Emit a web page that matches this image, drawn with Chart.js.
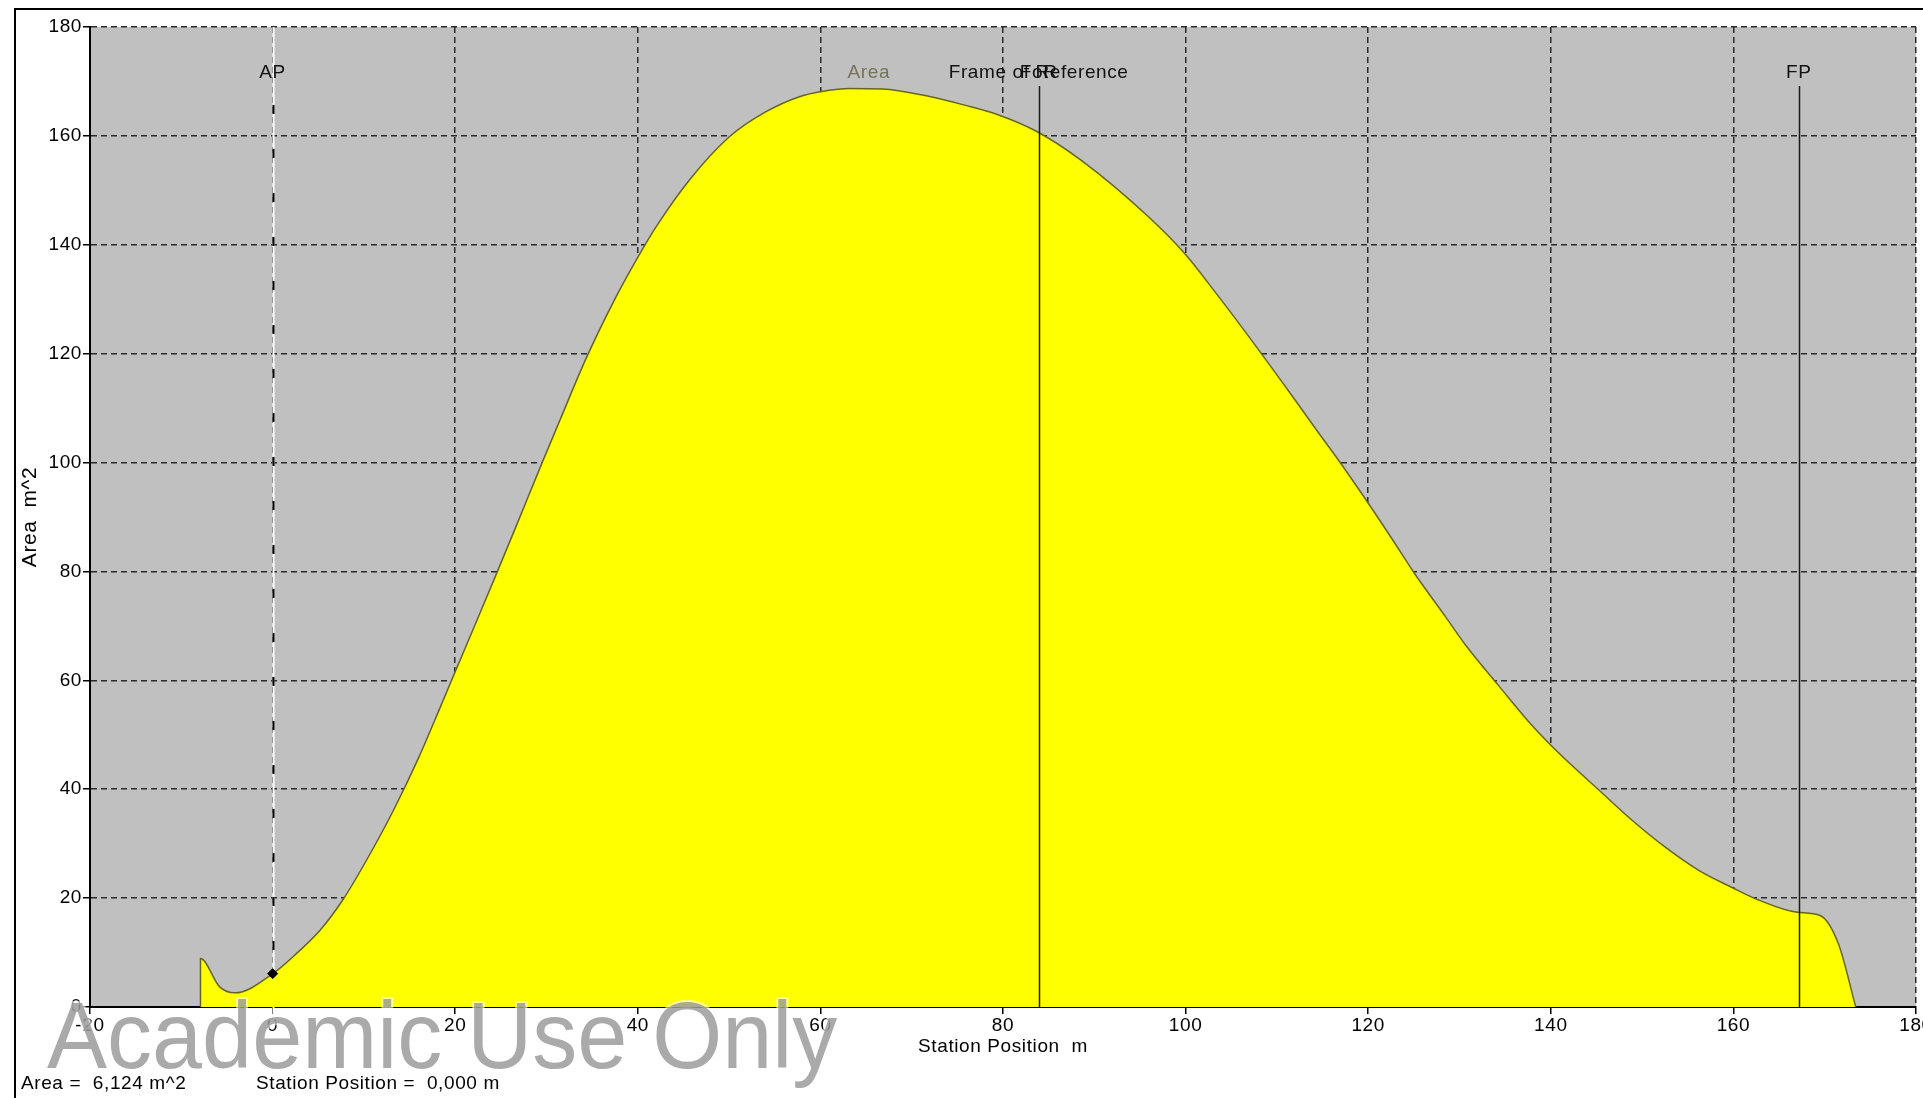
<!DOCTYPE html>
<html>
<head>
<meta charset="utf-8">
<title>Area curve</title>
<script src="https://cdn.jsdelivr.net/npm/chart.js@4.4.1/dist/chart.umd.min.js"></script>
<style>
html, body { margin: 0; padding: 0; background: #fff; overflow: hidden; }
#wrap { position: relative; width: 1923px; height: 1098px; }
#frame { position: absolute; left: 14px; top: 8px; width: 2000px; height: 2000px;
         border-left: 2px solid #000; border-top: 2px solid #000; pointer-events: none; }
</style>
</head>
<body>
<div id="wrap">
  <canvas id="areaChart" width="1923" height="1098"></canvas>
  <div id="frame"></div>
</div>
<script>
// sectional area curve
const stations = [-7.9, -7.9, -5.8, -4.1, 0, 2.6, 5.2, 7.7, 10.3, 13.2, 16.0, 18.3, 20.0, 22.2,
                  24.4, 26.6, 29.5, 31.5, 34.3, 37.6, 40.2, 42.0, 45.7, 50.0, 54.0, 57.7, 60.3,
                  63.2, 66.8, 71.2, 75.9, 79.6, 83.6, 88.5, 95.9, 99.9, 103.2, 106.5, 111.3,
                  114.2, 117.1, 120.1, 122.6, 125.0, 128.5, 130.7, 134.4, 138.0, 140.9, 145.3,
                  148.9, 152.5, 156.2, 159.8, 162.7, 167.0, 169.5, 171.5, 173.4];
const areas = [0, 8.9, 3.7, 2.6, 6.1, 9.8, 14.1, 19.7, 27.0, 36.0, 45.8, 54.8, 61.6, 70.3,
               79.1, 88.0, 99.9, 107.9, 119.0, 130.4, 138.3, 143.3, 152.0, 159.8, 164.4, 167.2, 168.2,
               168.7, 168.6, 167.5, 165.6, 163.8, 160.9, 155.6, 145.2, 138.4, 131.4, 124.1, 113.1,
               106.3, 99.6, 92.3, 86.0, 79.8, 71.6, 66.4, 58.8, 51.6, 46.6, 39.8,
               34.3, 29.4, 25.1, 22.0, 19.7, 17.4, 16.8, 11.6, 0];

// cursor marker
const cursorStation = [0];
const cursorArea = [6.124];

// reference lines
const refNames = ['AP', 'FoR', 'FP'];
const refStations = [0, 83.9, 167.15];

// axis ranges / ticks
const xRange = [-20, 180];
const yRange = [0, 180];
const tickStep = 20;

const FONT = '"Liberation Sans", Arial, sans-serif';

const curvePoints = stations.map((s, i) => ({ x: s, y: areas[i] }));
const cursorPoints = cursorStation.map((s, i) => ({ x: s, y: cursorArea[i] }));

const decorPlugin = {
    id: 'decor',
    beforeDraw(chart) {
        const { ctx, chartArea: a } = chart;
        ctx.letterSpacing = '0.6px';
        ctx.save();
        ctx.fillStyle = '#c0c0c0';
        ctx.fillRect(a.left, a.top, a.right - a.left, a.bottom - a.top);
        ctx.restore();
    },
    beforeDatasetsDraw(chart) {
        // AP line: white with sparse black dashes
        const { ctx, chartArea: a, scales: { x } } = chart;
        const px = Math.round(x.getPixelForValue(refStations[0])) + 0.5;
        ctx.save();
        ctx.strokeStyle = '#ffffff';
        ctx.lineWidth = 2;
        ctx.beginPath();
        ctx.moveTo(px, a.top);
        ctx.lineTo(px, a.bottom + 20);
        ctx.stroke();
        ctx.strokeStyle = '#000';
        ctx.setLineDash([9, 35]);
        ctx.beginPath();
        ctx.moveTo(px, a.top + 78);
        ctx.lineTo(px, a.bottom);
        ctx.stroke();
        ctx.restore();
    },
    afterDatasetsDraw(chart) {
        const { ctx, chartArea: a, scales: { x } } = chart;
        ctx.save();
        ctx.font = '19px ' + FONT;
        ctx.textAlign = 'center';
        ctx.textBaseline = 'middle';

        // FoR and FP solid lines
        ctx.strokeStyle = '#1a1a1a';
        ctx.lineWidth = 1.5;
        [1, 2].forEach((i) => {
            const px = Math.round(x.getPixelForValue(refStations[i])) + 0.5;
            ctx.beginPath();
            ctx.moveTo(px, 86);
            ctx.lineTo(px, a.bottom);
            ctx.stroke();
        });

        // labels at the top
        ctx.fillStyle = '#111';
        ctx.fillText(refNames[0], x.getPixelForValue(refStations[0]), 73);
        ctx.fillText(refNames[2], x.getPixelForValue(refStations[2]), 73);
        ctx.fillText('Frame of Reference', x.getPixelForValue(refStations[1]), 73);
        ctx.fillText(refNames[1], x.getPixelForValue(refStations[1]), 73);
        ctx.fillStyle = '#74745a';
        ctx.fillText('Area', x.getPixelForValue(65.3), 73);
        ctx.restore();
    },
    afterDraw(chart) {
        const { ctx } = chart;
        ctx.save();
        // watermark
        ctx.translate(47, 1068);
        ctx.scale(1, 1.06);
        ctx.letterSpacing = '0px';
        ctx.font = '90px ' + FONT;
        ctx.textAlign = 'left';
        ctx.textBaseline = 'alphabetic';
        ctx.lineWidth = 4;
        ctx.strokeStyle = 'rgba(255,255,255,0.6)';
        ctx.strokeText('Academic Use Only', 0, 0);
        ctx.fillStyle = 'rgba(155,155,155,0.85)';
        ctx.fillText('Academic Use Only', 0, 0);
        ctx.restore();

        // status line
        ctx.save();
        ctx.font = '19px ' + FONT;
        ctx.letterSpacing = '0.6px';
        ctx.fillStyle = '#000';
        ctx.textAlign = 'left';
        ctx.fillText('Area =  6,124 m^2', 21, 1089);
        ctx.fillText('Station Position =  0,000 m', 256, 1089);
        ctx.restore();
    }
};

const ctx = document.getElementById('areaChart').getContext('2d');

new Chart(ctx, {
    type: 'line',
    data: {
        datasets: [
            {
                label: 'Area',
                data: curvePoints,
                fill: 'origin',
                backgroundColor: '#ffff00',
                borderColor: '#66661a',
                borderWidth: 1.5,
                pointRadius: 0,
                cubicInterpolationMode: 'monotone',
                order: 2
            },
            {
                label: 'Cursor',
                data: cursorPoints,
                showLine: false,
                pointStyle: 'rectRot',
                pointRadius: 5,
                backgroundColor: '#000',
                borderColor: '#000',
                order: 1
            }
        ]
    },
    options: {
        responsive: false,
        animation: false,
        devicePixelRatio: 1,
        layout: { padding: { top: 27, right: 7, left: 0, bottom: 0 } },
        plugins: {
            legend: { display: false },
            tooltip: { enabled: false }
        },
        scales: {
            x: {
                type: 'linear',
                min: xRange[0],
                max: xRange[1],
                ticks: {
                    stepSize: tickStep,
                    color: '#000',
                    padding: 0,
                    maxRotation: 0,
                    font: { family: FONT, size: 19 }
                },
                grid: { color: '#2a2a2a', lineWidth: 1.5, tickLength: 7, tickColor: '#000', tickWidth: 1.5 },
                border: { color: '#000', width: 2, dash: [6, 4] },
                title: {
                    display: true,
                    text: 'Station Position  m',
                    color: '#000',
                    font: { family: FONT, size: 19 },
                    padding: { top: 0, bottom: 40 }
                },
                afterFit(scale) {
                    scale.height = 91;
                    scale.paddingLeft = 0;
                    scale.paddingRight = 0;
                }
            },
            y: {
                min: yRange[0],
                max: yRange[1],
                ticks: {
                    stepSize: tickStep,
                    color: '#000',
                    padding: 1,
                    font: { family: FONT, size: 19 }
                },
                grid: { color: '#2a2a2a', lineWidth: 1.5, tickLength: 7, tickColor: '#000', tickWidth: 1.5 },
                border: { color: '#000', width: 2, dash: [6, 4] },
                title: {
                    display: true,
                    text: 'Area  m^2',
                    color: '#000',
                    font: { family: FONT, size: 21 },
                    padding: { top: 18, bottom: 0 }
                },
                afterFit(scale) {
                    scale.width = 90;
                    scale.paddingTop = 0;
                    scale.paddingBottom = 0;
                }
            }
        }
    },
    plugins: [decorPlugin]
});
</script>
</body>
</html>
